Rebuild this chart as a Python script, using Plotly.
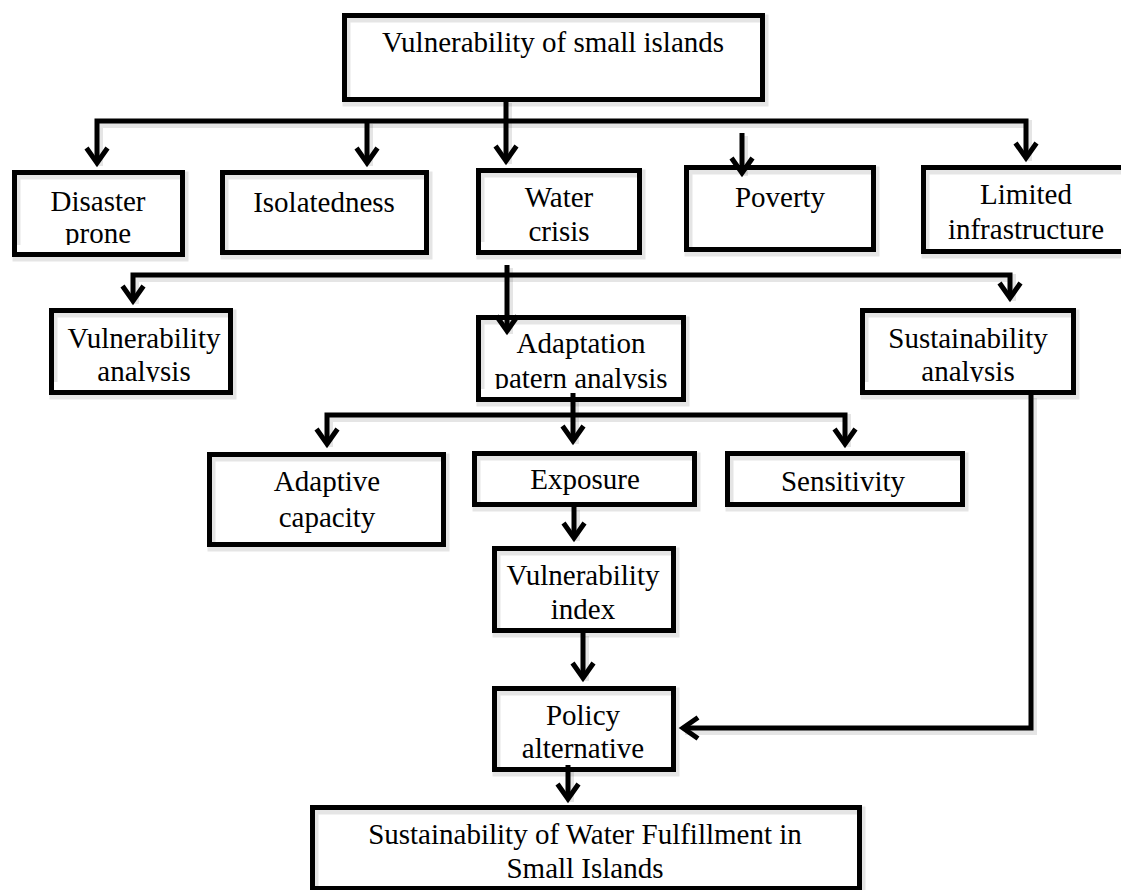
import plotly.graph_objects as go

W, H = 1121, 890

# ---------------- content (labels) ----------------
node_lines = [
    ["Vulnerability of small islands"],
    ["Disaster", "prone"],
    ["Isolatedness"],
    ["Water", "crisis"],
    ["Poverty"],
    ["Limited", "infrastructure"],
    ["Vulnerability", "analysis"],
    ["Adaptation", "patern analysis"],
    ["Sustainability", "analysis"],
    ["Adaptive", "capacity"],
    ["Exposure"],
    ["Sensitivity"],
    ["Vulnerability", "index"],
    ["Policy", "alternative"],
    ["Sustainability of Water Fulfillment in", "Small Islands"],
]

# ---------------- layout geometry (pixels, y downwards) ----------------
box_x0 = [342, 12, 220, 476, 684, 921, 49, 476, 860, 207, 472, 725, 492, 492, 310]
box_x1 = [765, 185, 429, 642, 876, 1131, 233, 686, 1076, 446, 697, 965, 676, 676, 862]
box_y0 = [13, 170, 170, 168, 165, 165, 308, 315, 308, 452, 451, 451, 546, 686, 805]
box_y1 = [102, 257, 255, 255, 252, 254, 395, 402, 395, 547, 507, 507, 633, 772, 891]
text_x = [553, 98, 324, 559, 780, 1026, 144, 581, 968, 327, 585, 843, 583, 583, 585]
text_y = [[45], [203.5, 236], [204.5], [200, 234], [200], [197, 232], [341, 374],
          [346, 381], [341, 374], [484, 520], [482], [484], [578, 612],
          [718, 751], [837, 871]]
clip_y = [None, 245, None, 242, None, None, 382, 389, 382,
          None, None, None, None, None, None]

connector_lines = [
    [(97, 163), (97, 121), (1026, 121), (1026, 158)],
    [(367, 121), (367, 163)],
    [(506, 100), (506, 161)],
    [(742, 133), (742, 173)],
    [(133, 301), (133, 275), (1010, 275), (1010, 298)],
    [(507, 265), (507, 331)],
    [(327, 444), (327, 415), (845, 415), (845, 444)],
    [(573, 393), (573, 441)],
    [(574, 507), (574, 538)],
    [(583, 633), (583, 678)],
    [(1031, 395), (1031, 728), (683, 728)],
    [(568, 765), (568, 799)],
]
arrow_tips = [(97, 163, "d"), (367, 163, "d"), (506, 161, "d"), (742, 173, "d"),
              (1026, 158, "d"), (133, 301, "d"), (507, 331, "d"), (1010, 298, "d"),
              (327, 444, "d"), (573, 441, "d"), (845, 444, "d"), (574, 538, "d"),
              (583, 678, "d"), (568, 799, "d"), (683, 728, "l")]

LW = 5
FONT = dict(family="Liberation Serif, Times New Roman, serif", size=29, color="black")

shapes = []

def path_of(pts):
    return "M " + " L ".join(f"{x},{y}" for x, y in pts)

# soft shadows
SH = "rgba(0,0,0,0.10)"
for pts in connector_lines:
    shapes.append(dict(type="path", path=path_of([(x + 2, y + 3) for x, y in pts]),
                       line=dict(color=SH, width=LW + 3), layer="above"))
for i in range(len(node_lines)):
    shapes.append(dict(type="rect", x0=box_x0[i] + 2.5 + 2, x1=box_x1[i] - 2.5 + 2,
                       y0=box_y0[i] + 2.5 + 3, y1=box_y1[i] - 2.5 + 3,
                       line=dict(color=SH, width=LW + 3), layer="above"))

# clipping masks (text cut at the bottom of some boxes)
for i in range(len(node_lines)):
    if clip_y[i] is not None:
        shapes.append(dict(type="rect", x0=box_x0[i] + 4, x1=box_x1[i] - 4,
                           y0=clip_y[i], y1=box_y1[i] - 4,
                           line=dict(width=0), fillcolor="white", layer="above"))

# box borders
for i in range(len(node_lines)):
    shapes.append(dict(type="rect", x0=box_x0[i] + 2.5, x1=box_x1[i] - 2.5,
                       y0=box_y0[i] + 2.5, y1=box_y1[i] - 2.5,
                       line=dict(color="black", width=LW), layer="above"))

# connectors
for pts in connector_lines:
    shapes.append(dict(type="path", path=path_of(pts),
                       line=dict(color="black", width=LW), layer="above"))

# arrow heads (open chevrons)
for x, y, d in arrow_tips:
    if d == "d":
        pts = [(x - 10.5, y - 15), (x, y), (x + 10.5, y - 15)]
    else:
        pts = [(x + 15, y - 10.5), (x, y), (x + 15, y + 10.5)]
    shapes.append(dict(type="path", path=path_of(pts),
                       line=dict(color="black", width=LW), layer="above"))

# text
tx, ty, tt = [], [], []
for i, lines in enumerate(node_lines):
    for line, yy in zip(lines, text_y[i]):
        tx.append(text_x[i])
        ty.append(yy)
        tt.append(line)

fig = go.Figure()
fig.add_trace(go.Scatter(x=tx, y=ty, text=tt, mode="text", textposition="middle center",
                         textfont=FONT, hoverinfo="skip", showlegend=False, cliponaxis=False))

fig.update_layout(
    width=W, height=H, autosize=False,
    margin=dict(l=0, r=0, t=0, b=0, pad=0),
    paper_bgcolor="white", plot_bgcolor="white",
    xaxis=dict(range=[0, W], visible=False, fixedrange=True),
    yaxis=dict(range=[H, 0], visible=False, fixedrange=True),
    shapes=shapes, showlegend=False,
)

fig.write_html("out.html", config={"displayModeBar": False},
               post_script="document.body.style.margin='0';document.body.style.overflow='hidden';")
